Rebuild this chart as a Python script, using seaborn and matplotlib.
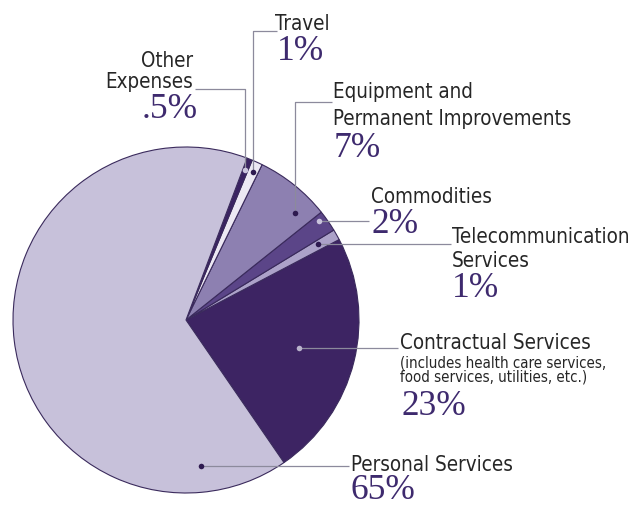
import matplotlib
matplotlib.use("Agg")
import matplotlib.pyplot as plt
import seaborn as sns
import numpy as np
from matplotlib import font_manager

# ---------------- data ----------------
categories = ["Contractual Services", "Telecommunication Services", "Commodities",
              "Equipment and Permanent Improvements", "Travel", "Other Expenses",
              "Personal Services"]
values = [23, 1, 2, 7, 1, 0.5, 65]
pct_labels = ["23%", "1%", "2%", "7%", "1%", ".5%", "65%"]
label_lines = [["Contractual Services"], ["Telecommunication", "Services"], ["Commodities"],
               ["Equipment and", "Permanent Improvements"], ["Travel"], ["Other", "Expenses"],
               ["Personal Services"]]
note_lines = ["(includes health care services,", "food services, utilities, etc.)"]

# ---------------- style ----------------
colors = ["#3d2463", "#aca2c9", "#5b4588", "#8d80b1", "#ece8f3", "#3a2262", "#c7c1da"]
dot_colors = ["#b9b3cc", "#2e1a50", "#c9c3dc", "#2e1a50", "#2e1a50", "#c9c3dc", "#2e1a50"]

sns.set_theme(style="white")

# find a condensed sans face if one is installed
fl = font_manager.fontManager.ttflist
cond = None
for f in fl:
    nm = f.name
    is_cond = ("Narrow" in nm or "Condensed" in nm or
               str(f.stretch) in ("condensed", "semi-condensed", "extra-condensed", "ultra-condensed")
               or (isinstance(f.stretch, int) and f.stretch < 500))
    if is_cond and f.style == "normal" and f.weight in (400, "normal", "regular") and "Mono" not in nm \
            and "Serif" not in nm:
        cond = f
        break

avail = {f.name for f in fl}
SERIF = "Liberation Serif" if "Liberation Serif" in avail else "DejaVu Serif"
if cond is not None:
    label_fp = dict(fname=cond.fname)
    LSIZE, NSIZE = 14.8, 10.8
else:
    base = "Liberation Sans" if "Liberation Sans" in avail else "DejaVu Sans"
    label_fp = dict(family=base)
    LSIZE, NSIZE = 15, 11
plt.rcParams["font.family"] = ["DejaVu Sans"]

def lprops(size):
    return font_manager.FontProperties(size=size, **label_fp)

W, H = 636, 506
def Y(y):  # image-pixel y -> data y
    return H - y

# layout in image pixels
CX, CY, R = 186, 321, 173
layout = [
    # label_x, baselines, ha, pct_x, pct_base, dot_frac, dot_r, elbow_y, line_end_x
    dict(lx=400, lb=[349], ha="left", px=401, pb=415, df=0.50, dr=0.67, ey=None, ex=398),
    dict(lx=452, lb=[243, 267], ha="left", px=452, pb=297, df=0.65, dr=0.88, ey=None, ex=451),
    dict(lx=371, lb=[203], ha="left", px=371, pb=233, df=0.75, dr=0.96, ey=None, ex=369),
    dict(lx=333, lb=[98, 125], ha="left", px=334, pb=157, df=0.23, dr=0.88, ey=103, ex=332),
    dict(lx=275, lb=[30], ha="left", px=277, pb=60, df=0.50, dr=0.94, ey=32, ex=277),
    dict(lx=193, lb=[67, 88], ha="right", px=198, pb=118, df=0.50, dr=0.93, ey=90, ex=195),
    dict(lx=351, lb=[471], ha="left", px=350, pb=499, df=0.878, dr=0.85, ey=None, ex=349),
]
note_baselines = [368, 382]

LABEL_COLOR = "#262626"
PCT_COLOR = "#3e2a6e"
LINE_COLOR = "#8c8a9c"

fig = plt.figure(figsize=(W / 100, H / 100), dpi=100)
ax = fig.add_axes([0, 0, 1, 1])
palette = sns.color_palette(colors)
wedges, _ = ax.pie(values, colors=palette, startangle=-55.5, counterclock=True,
                   center=(CX, Y(CY)), radius=R,
                   wedgeprops=dict(edgecolor="#3a2a5c", linewidth=0.8))
ax.set_xlim(0, W)
ax.set_ylim(0, H)
ax.set_aspect("equal")
ax.axis("off")

for i, w in enumerate(wedges):
    L = layout[i]
    ang = np.deg2rad(w.theta1 + L["df"] * (w.theta2 - w.theta1))
    dx = CX + L["dr"] * R * np.cos(ang)
    dy = Y(CY) + L["dr"] * R * np.sin(ang)
    if L["ey"] is None:
        xs, ys = [dx, L["ex"]], [dy, dy]
    else:
        xs, ys = [dx, dx, L["ex"]], [dy, Y(L["ey"]), Y(L["ey"])]
    ax.plot(xs, ys, color=LINE_COLOR, lw=0.9, solid_capstyle="butt", zorder=3)
    ax.plot([dx], [dy], "o", ms=4, color=dot_colors[i], mec="none", zorder=4)
    for line, b in zip(label_lines[i], L["lb"]):
        ax.text(L["lx"], Y(b), line, ha=L["ha"], va="baseline",
                fontproperties=lprops(LSIZE), color=LABEL_COLOR)
    ax.text(L["px"], Y(L["pb"]), pct_labels[i], ha=L["ha"], va="baseline", fontsize=25.5,
            color=PCT_COLOR, family=[SERIF, "DejaVu Serif"])

for line, b in zip(note_lines, note_baselines):
    ax.text(layout[0]["lx"], Y(b), line, ha="left", va="baseline",
            fontproperties=lprops(NSIZE), color=LABEL_COLOR)

fig.savefig("out.png", dpi=100, facecolor="white")
